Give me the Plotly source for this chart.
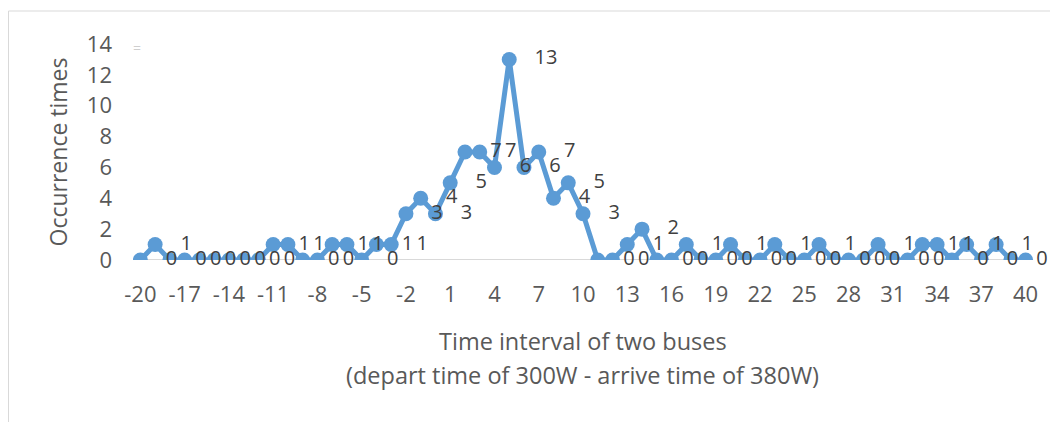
import plotly.graph_objects as go

# Data
intervals = list(range(-20, 41))
occurrences = [0, 1, 0, 0, 0, 0, 0, 0, 0, 1, 1, 0, 0, 1, 1, 0, 1, 1, 3, 4, 3,
               5, 7, 7, 6, 13, 6, 7, 4, 5, 3, 0, 0, 1, 2, 0, 0, 1, 0, 0, 1,
               0, 0, 1, 0, 0, 1, 0, 0, 0, 1, 0, 0, 1, 1, 0, 1, 0, 1, 0, 0]
tick_vals = list(range(-20, 41, 3))
tick_text = [str(v) for v in tick_vals]
y_ticks = list(range(0, 15, 2))
x_title_lines = ["Time interval of two buses",
                 "(depart time of 300W - arrive time of 380W)"]

FONT = "'Open Sans', Lato, sans-serif"
BLUE = "#5B9BD5"

# page is offset by an 8px body margin; keep the figure inside the window
W, H = 1050, 414
L, R, T, B = 125, 0, 36, 162
pw, ph = W - L - R, H - T - B
px_per_unit = 900 / 61.0          # category spacing of the original plot area
x_lo = min(intervals) - 0.5
x_axis_end = max(intervals) + 0.5
x_hi = x_lo + pw / px_per_unit     # plot area runs to the right edge so clipped labels show

label_shift = 1.72  # data labels appear offset to the right of the points
label_x = [v + label_shift for v in intervals]

fig = go.Figure()
fig.add_trace(go.Scatter(
    x=intervals, y=occurrences, mode="lines+markers",
    line=dict(color=BLUE, width=5),
    marker=dict(color=BLUE, size=15),
    showlegend=False, hoverinfo="x+y",
))
fig.add_trace(go.Scatter(
    x=label_x, y=occurrences, mode="text",
    text=[str(v) for v in occurrences],
    textposition="middle right",
    textfont=dict(family=FONT, size=20, color="#404040"),
    cliponaxis=False, showlegend=False, hoverinfo="skip",
))

def px2paper_x(px):
    return (px - L) / pw

def px2paper_y(py):
    return (H - B - py) / ph

fig.update_layout(
    width=W, height=H,
    margin=dict(l=L, r=R, t=T, b=B),
    paper_bgcolor="white", plot_bgcolor="white",
    font=dict(family=FONT, color="#595959"),
    xaxis=dict(
        range=[x_lo, x_hi], tickmode="array", tickvals=tick_vals, ticktext=tick_text,
        showgrid=False, zeroline=False, showline=False, ticks="",
        ticklabelstandoff=19,
        tickfont=dict(size=22, color="#595959"),
    ),
    yaxis=dict(
        range=[0, 14], tickvals=y_ticks, showgrid=False, zeroline=False,
        showline=False, ticks="", ticklabelstandoff=20,
        tickfont=dict(size=22, color="#595959"),
        title=dict(text="Occurrence times", font=dict(size=23, color="#595959"), standoff=12),
    ),
    shapes=[
        # zero axis line
        dict(type="line", xref="x", yref="y", x0=x_lo, x1=x_axis_end, y0=0, y1=0,
             line=dict(color="#D9D9D9", width=2), layer="below"),
        # chart area border
        dict(type="rect", xref="paper", yref="paper",
             x0=px2paper_x(0.5), x1=px2paper_x(1080),
             y0=px2paper_y(440), y1=px2paper_y(3),
             line=dict(color="#D9D9D9", width=1), layer="below"),
    ],
    annotations=[
        dict(text="=", xref="paper", yref="paper", x=px2paper_x(123), y=px2paper_y(28),
             showarrow=False, font=dict(size=14, color="#CFCFCF", family=FONT)),
        dict(text=x_title_lines[0], xref="paper", yref="paper",
             x=px2paper_x(574.5), y=px2paper_y(333), xanchor="center", yanchor="middle",
             showarrow=False, font=dict(size=23.5, color="#595959", family=FONT)),
        dict(text=x_title_lines[1], xref="paper", yref="paper",
             x=px2paper_x(574.5), y=px2paper_y(367), xanchor="center", yanchor="middle",
             showarrow=False, font=dict(size=23.5, color="#595959", family=FONT)),
    ],
)

fig.write_html("out.html")
